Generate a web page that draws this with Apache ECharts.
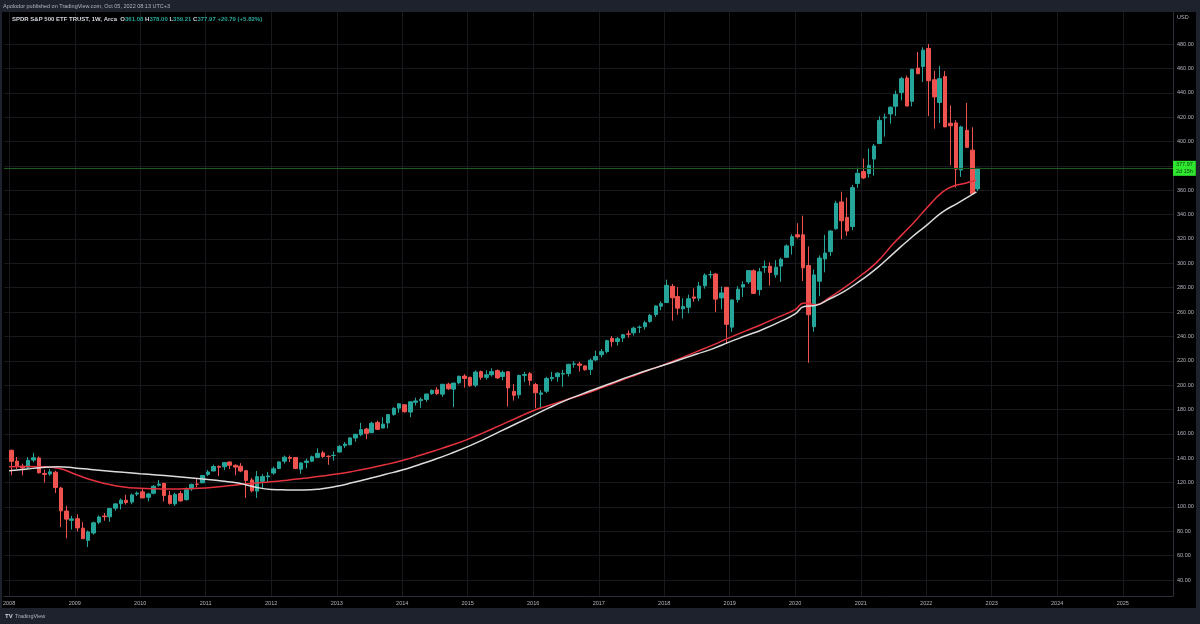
<!DOCTYPE html>
<html>
<head>
<meta charset="utf-8">
<title>SPDR S&amp;P 500 ETF TRUST, 1W</title>
<script src="https://cdn.jsdelivr.net/npm/echarts@6/dist/echarts.min.js"></script>
<style>
html, body { margin: 0; padding: 0; background: #000; }
#chart { width: 1200px; height: 624px; }
</style>
</head>
<body>
<div id="chart"></div>
<script>
// SPY monthly candles, Jan 2008 .. Oct 2022
var startYear = 2008;
var opens = [
	146.5,137.6,133.5,132.5,138.5,140.2,127.5,127.0,128.5,115.5,96.6,89.0,
	90.4,82.6,72.6,78.6,87.4,92.5,91.9,99.0,102.7,105.5,104.0,110.6,
	112.4,107.9,111.2,117.8,119.4,109.5,102.5,111.0,106.0,114.9,118.7,119.8,
	126.7,129.5,133.3,133.0,136.9,134.2,133.5,129.8,122.1,113.0,121.0,124.7,
	127.8,131.6,137.5,140.6,140.6,131.0,136.5,137.6,140.7,144.4,141.6,142.3,
	145.1,150.3,151.1,156.6,159.3,164.0,161.0,169.4,164.8,169.0,176.0,181.1,
	183.9,177.9,185.9,187.2,188.3,193.1,196.1,192.6,200.8,196.7,201.9,207.4,
	206.4,200.0,211.1,206.4,208.5,211.9,207.1,211.0,194.8,192.1,208.0,209.4,
	200.5,192.5,195.0,205.3,206.9,209.1,209.5,217.2,217.4,215.8,212.9,220.7,
	225.0,227.5,238.4,235.8,238.7,242.0,242.9,247.5,247.9,252.3,258.0,264.8,
	267.8,281.1,272.7,262.6,263.9,272.4,271.4,281.6,290.6,291.2,271.6,280.3,
	247.6,270.2,280.5,284.7,293.9,278.4,296.7,297.6,290.6,297.7,304.9,314.6,
	323.5,323.4,298.2,248.0,285.3,303.6,309.6,328.3,350.4,337.7,330.2,365.6,
	375.3,373.7,385.6,398.4,419.4,422.6,428.9,440.3,452.1,433.0,460.3,461.6,
	476.3,450.7,432.0,453.3,415.0,415.2,376.6,409.2,392.9,361.1
];
var highs = [
	147.0,141.0,135.5,141.0,144.4,141.5,130.6,131.1,129.7,116.5,100.9,92.7,
	94.0,87.6,80.7,87.9,93.0,95.0,99.0,103.2,107.0,110.0,111.0,112.6,
	115.1,111.6,118.0,122.1,119.8,113.2,111.6,113.0,116.0,119.1,122.9,126.2,
	130.4,134.7,134.0,136.9,137.2,134.9,136.0,130.0,123.9,129.5,127.0,128.7,
	133.0,137.5,142.2,142.2,141.0,136.6,139.7,142.2,148.1,146.1,142.3,145.6,
	150.8,153.3,157.3,159.7,169.1,165.0,170.0,170.9,173.6,176.3,181.8,184.7,
	184.1,186.7,189.7,189.7,192.8,196.5,198.3,200.7,201.9,201.8,207.9,209.0,
	206.9,212.2,212.0,212.2,213.8,212.9,212.0,211.5,200.9,208.7,211.0,210.7,
	201.9,196.0,206.9,210.9,210.7,212.5,217.5,219.6,219.2,216.2,221.8,228.3,
	229.7,237.3,240.3,239.5,242.1,245.0,248.0,248.9,252.9,258.5,265.5,268.6,
	286.6,283.1,280.4,271.3,274.3,279.5,284.7,291.7,293.9,292.0,281.0,280.4,
	270.5,281.2,285.2,294.5,295.0,296.3,302.2,300.9,302.6,304.6,315.5,323.8,
	332.9,339.1,313.8,294.9,306.5,323.4,327.2,351.3,358.8,354.0,364.4,378.5,
	385.9,394.2,398.0,420.7,422.8,428.8,441.8,453.1,454.1,459.6,473.5,477.3,
	480.0,458.1,462.1,457.8,429.6,417.4,413.0,431.7,411.7,378.0
];
var lows = [
	126.0,131.0,126.0,131.0,136.7,127.5,120.1,125.5,111.4,83.6,74.3,81.5,
	80.0,73.9,67.1,77.3,85.9,88.6,87.8,97.0,98.0,102.0,102.2,109.0,
	107.3,104.6,110.3,116.8,104.4,101.9,100.8,104.4,105.3,113.2,116.1,119.6,
	125.3,129.4,125.3,130.2,131.0,126.0,128.5,107.4,112.0,107.4,114.9,120.3,
	126.5,131.2,135.6,136.9,131.0,127.1,131.7,136.8,140.3,140.3,134.6,138.0,
	144.7,148.3,150.6,153.6,158.1,155.7,160.5,163.0,164.4,164.5,174.8,177.3,
	177.4,173.7,183.2,181.3,186.3,192.1,192.0,190.5,196.0,181.9,200.6,197.9,
	198.6,198.3,204.4,204.5,207.0,205.3,204.0,182.4,187.3,189.1,202.6,199.8,
	181.0,181.1,193.5,203.1,202.8,198.6,207.1,214.3,211.2,211.9,208.4,219.7,
	222.7,226.1,231.6,232.5,235.4,239.0,240.8,242.8,245.6,251.2,256.0,261.5,
	267.4,252.9,257.8,254.7,259.0,268.5,269.0,279.2,287.6,259.9,262.3,233.8,
	243.7,267.8,272.4,283.0,275.9,273.6,292.1,281.7,288.1,284.8,304.7,307.1,
	320.4,285.5,218.3,243.9,273.0,292.6,306.0,327.7,319.8,322.6,327.2,362.0,
	369.2,370.4,371.9,398.2,404.0,414.7,421.0,433.7,429.0,428.8,455.3,448.9,
	420.8,410.6,415.1,412.8,380.5,362.2,371.0,395.0,357.0,359.2
];
var closes = [
	137.4,133.8,132.0,138.3,140.4,128.0,126.7,128.8,116.0,96.8,90.0,90.2,
	82.8,73.9,79.5,87.0,91.8,92.0,98.8,102.5,105.6,103.6,109.9,111.4,
	107.4,110.7,117.0,118.8,109.4,102.9,110.3,104.9,114.1,118.5,118.6,125.8,
	128.7,133.2,132.6,136.4,134.2,132.7,129.5,121.7,113.2,124.9,124.9,125.5,
	131.3,137.0,140.8,139.9,131.5,136.1,137.7,141.2,144.0,141.4,141.5,142.4,
	149.7,151.6,156.7,159.7,163.5,160.4,168.7,163.7,168.0,175.8,181.0,184.7,
	178.2,186.3,187.0,188.3,192.7,195.7,193.1,200.7,197.0,201.7,207.2,205.5,
	199.5,210.7,206.4,208.5,211.1,205.9,210.5,197.7,191.6,207.9,208.7,203.9,
	193.7,193.6,205.5,206.3,209.8,209.5,217.1,217.4,216.3,212.6,220.4,223.5,
	227.5,236.5,235.7,238.1,241.4,241.8,246.8,247.5,251.2,257.2,265.0,266.9,
	281.9,271.7,263.2,264.5,270.9,271.3,281.3,290.3,290.7,270.6,275.7,249.9,
	269.9,278.7,282.5,294.0,275.3,293.0,297.4,292.5,296.8,303.3,314.3,321.9,
	321.7,296.3,257.8,290.5,304.3,308.4,326.5,349.3,334.9,326.5,362.1,373.9,
	370.1,380.4,396.3,417.3,420.0,428.1,438.5,451.6,429.1,459.3,455.6,475.0,
	449.9,436.6,451.6,412.0,412.9,377.3,412.0,395.2,357.2,377.97
];

// red moving average
var redDates = [
	'2008-01-01','2008-04-01','2008-07-01','2008-10-01','2009-01-01','2009-04-01','2009-07-01','2009-10-01',
	'2010-01-01','2010-04-01','2010-07-01','2010-10-01','2011-01-01','2011-04-01','2011-07-01','2011-10-01',
	'2012-01-01','2012-04-01','2012-07-01','2012-10-01','2013-01-01','2013-04-01','2013-07-01','2013-10-01',
	'2014-01-01','2014-04-01','2014-07-01','2014-10-01','2015-01-01','2015-04-01','2015-07-01','2015-10-01',
	'2016-01-01','2016-04-01','2016-07-01','2016-10-01','2017-01-01','2017-04-01','2017-07-01','2017-10-01',
	'2018-01-01','2018-04-01','2018-07-01','2018-10-01','2019-01-01','2019-04-01','2019-07-01','2019-10-01',
	'2020-01-01','2020-02-20','2020-04-27','2020-07-01','2020-10-01','2021-01-01','2021-04-01','2021-07-01',
	'2021-10-01','2021-11-06','2022-01-01','2022-04-01','2022-06-03','2022-07-31','2022-09-24','2022-10-07'
];
var redValues = [
	133,133.2,133,131.8,127,122.3,118.8,116.3,
	115.3,114.9,114.7,115,115.6,116.8,118.2,119.5,
	120.6,122,123.6,125.2,127,129.2,131.8,134.8,
	138.2,142,146.2,150.6,155.5,161,167,173,
	179,183.5,187.8,192,197,202,207,212,
	216.8,222,227.5,233,239,244.5,250,256,
	262,267.5,266,271,280,290,301,316,
	330,335.6,345,358.5,363.5,365.5,367.8,368
];

// white moving average
var whiteDates = [
	'2008-01-01','2008-04-01','2008-07-01','2008-10-01','2009-01-01','2009-04-01','2009-07-01','2009-10-01',
	'2010-01-01','2010-04-01','2010-07-01','2010-10-01','2011-01-01','2011-04-01','2011-07-01','2011-10-01',
	'2012-01-01','2012-04-01','2012-07-01','2012-10-01','2013-01-01','2013-04-01','2013-07-01','2013-10-01',
	'2014-01-01','2014-04-01','2014-07-01','2014-10-01','2015-01-01','2015-04-01','2015-07-01','2015-10-01',
	'2016-01-01','2016-04-01','2016-07-01','2016-10-01','2017-01-01','2017-04-01','2017-07-01','2017-10-01',
	'2018-01-01','2018-04-01','2018-07-01','2018-10-01','2019-01-01','2019-04-01','2019-07-01','2019-10-01',
	'2020-01-01','2020-02-20','2020-04-27','2020-07-01','2020-10-01','2021-01-01','2021-04-01','2021-07-01',
	'2021-10-01','2022-01-01','2022-04-01','2022-07-01','2022-10-01','2022-10-07'
];
var whiteValues = [
	129.8,131,132.4,133,132,130.8,129.6,128.4,
	127.3,126.3,125.2,124,122.7,121.3,119.6,116.4,
	114.4,114,113.9,114.8,117,120,123.3,126.8,
	130.3,134.5,139,144,149.5,155.5,162,168.5,
	175,181.5,187.5,192.8,197.8,202.7,207.6,212.2,
	216.5,221,225.5,230,235.5,240.5,245.5,251.5,
	258.5,264.5,265.5,270,277,286,296,308,
	320,331,342,349.8,358,358.8
];

var priceTicks = [40,60,80,100,120,140,160,180,200,220,240,260,280,300,320,340,360,380,400,420,440,460,480];
var yearTicks = [];
for (var y = 2008; y <= 2025; y++) {
	yearTicks.push(new Date(y, 0, 1).getTime());
}
var lastPrice = 377.97;

var upColor = '#26a69a';
var downColor = '#ef5350';
var gridColor = '#17191e';
var textColor = '#b2b5be';
var fontName = 'Liberation Sans';

// 'YYYY-MM-DD' -> local timestamp
function toTime(s) {
	var p = s.split('-');
	return new Date(+p[0], +p[1] - 1, +p[2]).getTime();
}

var candles = [];
for (var i = 0; i < opens.length; i++) {
	var yr = startYear + Math.floor(i / 12);
	var mo = i % 12;
	candles.push([new Date(yr, mo, 15).getTime(), opens[i], closes[i], lows[i], highs[i]]);
}
var redLine = redDates.map(function(d, k) { return [toTime(d), redValues[k]]; });
var whiteLine = whiteDates.map(function(d, k) { return [toTime(d), whiteValues[k]]; });

var chart = echarts.init(document.getElementById('chart'));

var option = {
	animation: false,
	backgroundColor: '#000000',
	textStyle: { fontFamily: fontName },
	title: {
		left: 7,
		top: 11,
		text: '{n|SPDR S&P 500 ETF TRUST, 1W, Arca}  {l|O}{v|361.08} {l|H}{v|378.00} {l|L}{v|359.21} {l|C}{v|377.97} {v|+20.79 (+5.82%)}',
		textStyle: {
			fontSize: 6,
			rich: {
				n: { color: '#d1d4dc', fontSize: 6, fontFamily: fontName },
				l: { color: '#d1d4dc', fontSize: 6, fontFamily: fontName },
				v: { color: upColor, fontSize: 6, fontFamily: fontName }
			}
		}
	},
	grid: {
		left: 0,
		right: 27,
		top: 12,
		bottom: 28
	},
	xAxis: {
		type: 'value',
		min: toTime('2007-12-03'),
		max: toTime('2025-10-08'),
		axisLine: { show: true, lineStyle: { color: '#2a2e39', width: 1 } },
		axisTick: { show: false, customValues: yearTicks },
		axisLabel: {
			customValues: yearTicks,
			formatter: function(v) { return '' + new Date(v).getFullYear(); },
			color: textColor,
			fontSize: 5.5,
			margin: 4
		},
		splitLine: { show: true, lineStyle: { color: gridColor, width: 1 } }
	},
	yAxis: {
		type: 'value',
		position: 'right',
		min: 26.9,
		max: 506.3,
		axisLine: { show: true, lineStyle: { color: '#2a2e39', width: 1 } },
		axisTick: { show: false, customValues: priceTicks },
		axisLabel: {
			customValues: priceTicks,
			formatter: function(v) { return v.toFixed(2); },
			color: textColor,
			fontSize: 5.5,
			margin: 4
		},
		splitLine: { show: true, lineStyle: { color: gridColor, width: 1 } }
	},
	series: [
		{
			name: 'SPY',
			type: 'candlestick',
			data: candles,
			encode: { x: 0, y: [1, 2, 3, 4] },
			barWidth: 4,
			itemStyle: {
				color: upColor,
				color0: downColor,
				borderColor: upColor,
				borderColor0: downColor,
				borderWidth: 1
			},
			markLine: {
				silent: true,
				symbol: ['none', 'none'],
				lineStyle: { color: '#1c5c1c', width: 1, type: 'solid' },
				label: {
					show: true,
					position: 'end',
					distance: 0,
					formatter: lastPrice.toFixed(2) + '\n2d 15h',
					backgroundColor: '#2ee62e',
					color: '#0d3d0d',
					fontSize: 5.5,
					lineHeight: 7,
					padding: [1, 3, 0, 3]
				},
				data: [{ yAxis: lastPrice }]
			}
		},
		{
			name: 'MA red',
			type: 'line',
			data: redLine,
			showSymbol: false,
			smooth: 0.5,
			lineStyle: { color: '#e5323e', width: 1.5 },
			z: 5
		},
		{
			name: 'MA white',
			type: 'line',
			data: whiteLine,
			showSymbol: false,
			smooth: 0.5,
			lineStyle: { color: '#dcdcdc', width: 1.5 },
			z: 5
		}
	],
	graphic: [
		{ type: 'rect', z: 100, shape: { x: 0, y: 0, width: 1200, height: 12 }, style: { fill: '#1e222d' } },
		{ type: 'text', z: 101, x: 3, y: 6, style: { text: 'Apolodor published on TradingView.com, Oct 05, 2022 08:13 UTC+3', fill: textColor, fontSize: 5.5, fontFamily: fontName, verticalAlign: 'middle' } },
		{ type: 'rect', z: 100, shape: { x: 0, y: 608, width: 1200, height: 16 }, style: { fill: '#1e222d' } },
		{ type: 'rect', z: 100, shape: { x: 1196, y: 12, width: 4, height: 596 }, style: { fill: '#1e222d' } },
		{ type: 'rect', z: 100, shape: { x: 0, y: 12, width: 2, height: 596 }, style: { fill: '#1e222d' } },
		{ type: 'text', z: 101, x: 5, y: 616, style: { text: 'TV', fill: '#d1d4dc', fontSize: 6, fontWeight: 'bold', fontFamily: fontName, verticalAlign: 'middle' } },
		{ type: 'text', z: 101, x: 15, y: 616, style: { text: 'TradingView', fill: '#b2b5be', fontSize: 5.5, fontFamily: fontName, verticalAlign: 'middle' } },
		{ type: 'text', z: 101, x: 1177, y: 17, style: { text: 'USD', fill: textColor, fontSize: 5.5, fontFamily: fontName, verticalAlign: 'middle' } }
	]
};

chart.setOption(option);
</script>
</body>
</html>
